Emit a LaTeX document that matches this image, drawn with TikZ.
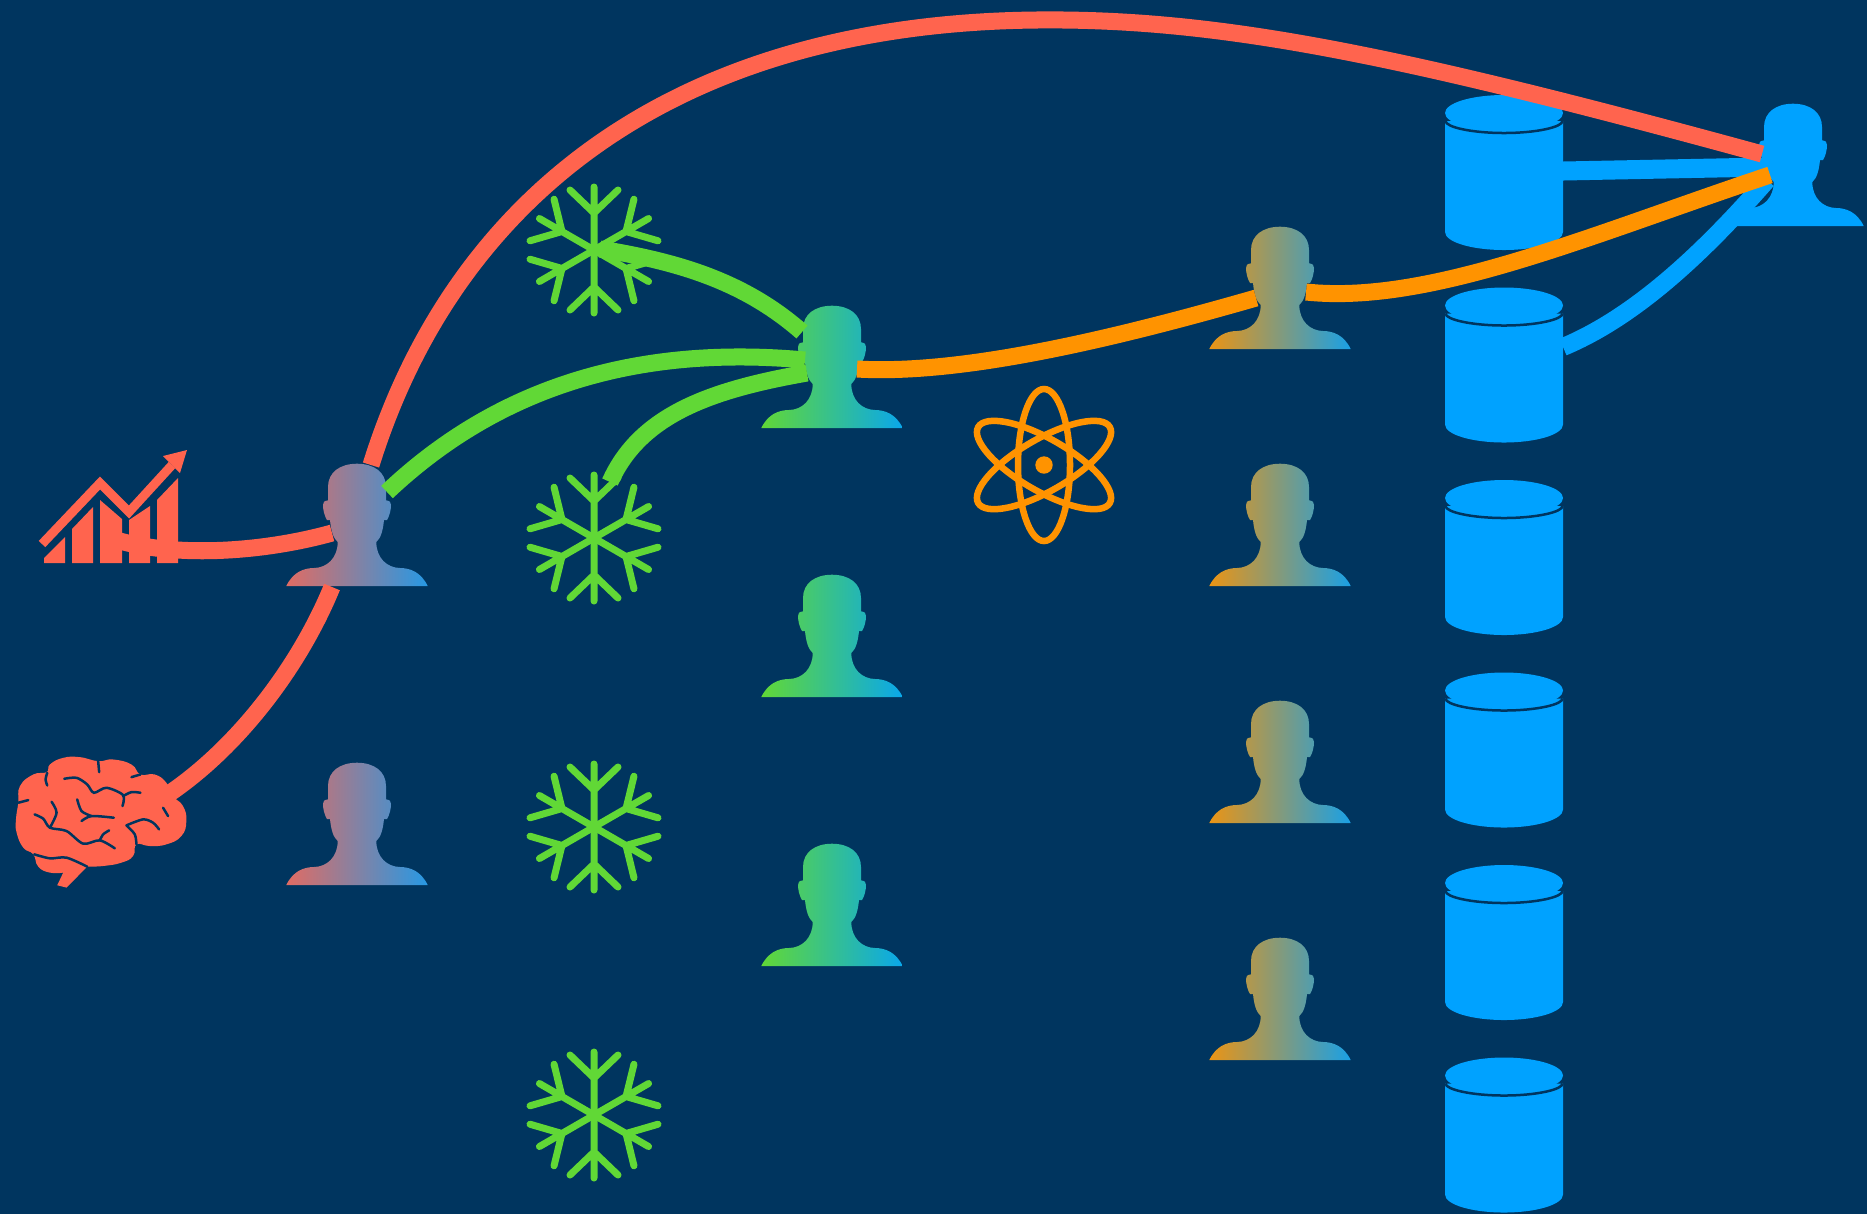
\documentclass[tikz,border=0pt]{standalone}
\definecolor{navy}{HTML}{00355F}
\definecolor{coral}{HTML}{FF644E}
\definecolor{lime}{HTML}{61D836}
\definecolor{amber}{HTML}{FF9300}
\definecolor{sky}{HTML}{00A2FF}
\tikzset{
  pics/person/.style 2 args={code={
    \path[left color=#1, right color=#2] (-70.7,0) .. controls (-64,-14) and (-53,-18) .. (-43,-18)
      .. controls (-30,-18.3) and (-19.3,-28) .. (-19.3,-44)
      .. controls (-24,-48) and (-26,-56) .. (-27,-66) -- (-30,-66)
      .. controls (-32.5,-70) and (-34,-76) .. (-34,-81) .. controls (-34,-84) and (-33,-85) .. (-29,-85.7)
      -- (-29,-99) .. controls (-29,-114) and (-16.7,-122.3) .. (0,-122.3)
      .. controls (16.7,-122.3) and (29,-114) .. (29,-99) -- (29,-85.7)
      .. controls (33,-85) and (34,-84) .. (34,-81) .. controls (34,-76) and (32.5,-70) .. (30,-66)
      -- (27,-66) .. controls (26,-56) and (24,-48) .. (19.3,-44)
      .. controls (19.3,-28) and (30,-18.3) .. (43,-18) .. controls (53,-18) and (64,-14) .. (70.7,0) -- cycle;
  }},
  pics/flake/.style={code={
    \foreach \a in {0,60,...,300}
      \draw[lime, line width=0.07cm, line cap=round, rotate=\a] (0,0)--(0,-63) (0,-37)--(24,-60) (0,-37)--(-24,-60);
  }},
  pics/atom/.style={code={
    \draw[amber, line width=0.065cm] (0,0) ellipse [x radius=26, y radius=76];
    \draw[amber, line width=0.065cm, rotate=60] (0,0) ellipse [x radius=26, y radius=76];
    \draw[amber, line width=0.065cm, rotate=120] (0,0) ellipse [x radius=26, y radius=76];
    \fill[amber] (0,0) circle [radius=8.7];
  }},
  pics/drum/.style={code={
    \fill[sky] (-59,8) -- (-59,119) .. controls (-59,129) and (-32.6,137) .. (0,137)
      .. controls (32.6,137) and (59,129) .. (59,119) -- (59,8) -- cycle;
    \draw[navy, line width=0.025cm] (-58.5,8) .. controls (-58.5,14) and (-32.6,20) .. (0,20)
      .. controls (32.6,20) and (58.5,14) .. (58.5,8);
    \fill[sky] (0,0) ellipse [x radius=59, y radius=18];
  }}
}
\begin{document}
\begin{tikzpicture}[x=0.01cm, y=-0.01cm,
    flow/.style={line width=0.17cm},
    fold/.style={navy, line width=0.025cm, line cap=round}]
  \useasboundingbox (0,0) rectangle (1867,1214);
  \fill[navy] (0,0) rectangle (1867,1214);
  % Chart icon
  \fill[coral] (44,558)--(65,537)--(65,563)--(44,563)--cycle;
  \fill[coral] (72,529)--(93,507)--(93,563)--(72,563)--cycle;
  \fill[coral] (100,500)--(122,519)--(122,563)--(100,563)--cycle;
  \fill[coral] (129,520)--(150,506)--(150,563)--(129,563)--cycle;
  \fill[coral] (157,500)--(178,478)--(178,563)--(157,563)--cycle;
  \draw[coral, line width=0.09cm] (42,544)--(100,483)--(129,512)--(172,465);
  \fill[coral] (187,450)--(163,456)--(180,473)--cycle;
  % Brain icon
  \begin{scope}[shift={(0,430)}, x=0.00333cm, y=-0.00333cm]
    \fill[coral] plot[smooth, tension=0.8] coordinates {(190,1330) (150,1330) (115,1312) (100,1275) (70,1255) (50,1210) (48,1170) (55,1120) (60,1070) (100,1035) (140,1028) (150,1005) (190,985) (240,983) (295,995) (340,990) (395,1005) (422,1035) (465,1035) (500,1060) (520,1100) (550,1130) (560,1175) (545,1220) (500,1245) (450,1250) (410,1245) (400,1280) (365,1300) (310,1310) (262,1312)} -- (200,1375) -- (172,1368) -- cycle;
    \draw[fold] plot[smooth] coordinates {(142,1030) (137,1050) (142,1068)};
    \draw[fold] (295,995)--(298,1028);
    \draw[fold] (422,1035)--(395,1043);
    \draw[fold] (55,1120)--(85,1112);
    \draw[fold] plot[smooth] coordinates {(193,1048) (230,1045) (262,1065) (282,1090) (320,1075) (370,1097) (368,1130)};
    \draw[fold] plot[smooth] coordinates {(370,1100) (395,1088) (422,1090)};
    \draw[fold] plot[smooth] coordinates {(155,1117) (170,1150) (150,1195)};
    \draw[fold] plot[smooth] coordinates {(104,1155) (130,1168) (150,1195) (200,1205) (250,1243) (300,1233) (345,1257)};
    \draw[fold] plot[smooth] coordinates {(300,1233) (310,1215) (328,1203)};
    \draw[fold] plot[smooth] coordinates {(232,1110) (245,1145) (275,1160)};
    \draw[fold] plot[smooth] coordinates {(245,1175) (275,1160) (342,1165)};
    \draw[fold] plot[smooth] coordinates {(380,1188) (430,1170) (460,1180) (478,1200)};
    \draw[fold] plot[smooth] coordinates {(380,1188) (405,1215) (410,1245)};
    \draw[fold] plot[smooth] coordinates {(103,1275) (150,1287) (200,1285) (262,1312)};
    \draw[fold] (490,1135)--(505,1160);
  \end{scope}
  % Snowflakes and atom
  \pic at (594,250) {flake};
  \pic at (594,538) {flake};
  \pic at (594,827) {flake};
  \pic at (594,1115) {flake};
  \pic at (1044,465) {atom};
  % Drums
  \pic at (1504,113) {drum};
  \pic at (1504,305.5) {drum};
  \pic at (1504,498) {drum};
  \pic at (1504,690.5) {drum};
  \pic at (1504,883) {drum};
  \pic at (1504,1075.5) {drum};
  % People
  \pic at (357,586) {person={coral!88!sky}{sky!85!coral}};
  \pic at (357,885) {person={coral!88!sky}{sky!85!coral}};
  \pic at (832,428) {person={lime}{sky!90!lime}};
  \pic at (832,697) {person={lime}{sky!90!lime}};
  \pic at (832,966) {person={lime}{sky!90!lime}};
  \pic at (1280,349) {person={amber!92!sky}{sky!90!amber}};
  \pic at (1280,586) {person={amber!92!sky}{sky!90!amber}};
  \pic at (1280,823) {person={amber!92!sky}{sky!90!amber}};
  \pic at (1280,1060) {person={amber!92!sky}{sky!90!amber}};
  \pic at (1793,226) {person={sky}{sky}};
  % Ends of the flows
  \coordinate (chartout) at (110,538);
  \coordinate (brainout) at (170,793);
  \coordinate (flakeaout) at (600,249);
  \coordinate (flakebout) at (610,482);
  \coordinate (drumaout) at (1563,171);
  \coordinate (drumbout) at (1563,347);
  \coordinate (greyhead) at (371,465);
  \coordinate (greyface) at (332,533);
  \coordinate (greybase) at (332,587);
  \coordinate (greyear) at (387,492);
  \coordinate (tealtop) at (802,332);
  \coordinate (tealmid) at (805,360);
  \coordinate (teallow) at (807,373);
  \coordinate (tealright) at (857,369);
  \coordinate (ochreleft) at (1256,298);
  \coordinate (ochreright) at (1306,292);
  \coordinate (skya) at (1762,154);
  \coordinate (skyb) at (1767,167);
  \coordinate (skyc) at (1770,175);
  \coordinate (skyd) at (1767,180);
  \coordinate (redtop) at (1036,20);
  % Blue flows
  \draw[sky, line width=0.19cm] (drumaout)--(skyb);
  \draw[sky, line width=0.18cm] (drumbout) .. controls (1640,315) and (1710,245) .. (skyd);
  % Red flows
  \draw[coral, flow] (chartout) .. controls (170,558) and (260,553) .. (greyface);
  \draw[coral, flow] (brainout) .. controls (240,745) and (300,665) .. (greybase);
  \draw[coral, flow] (greyhead) .. controls (452,205) and (665,24) .. (redtop)
    .. controls (1220,18) and (1400,55) .. (skya);
  % Green flows
  \draw[lime, flow] (greyear) .. controls (500,385) and (640,345) .. (tealmid);
  \draw[lime, flow] (flakeaout) .. controls (680,262) and (745,282) .. (tealtop);
  \draw[lime, flow] (flakebout) .. controls (640,415) and (710,390) .. (teallow);
  % Orange flows
  \draw[amber, flow] (tealright) .. controls (960,375) and (1110,340) .. (ochreleft);
  \draw[amber, flow] (ochreright) .. controls (1430,305) and (1590,235) .. (skyc);
\end{tikzpicture}
\end{document}
